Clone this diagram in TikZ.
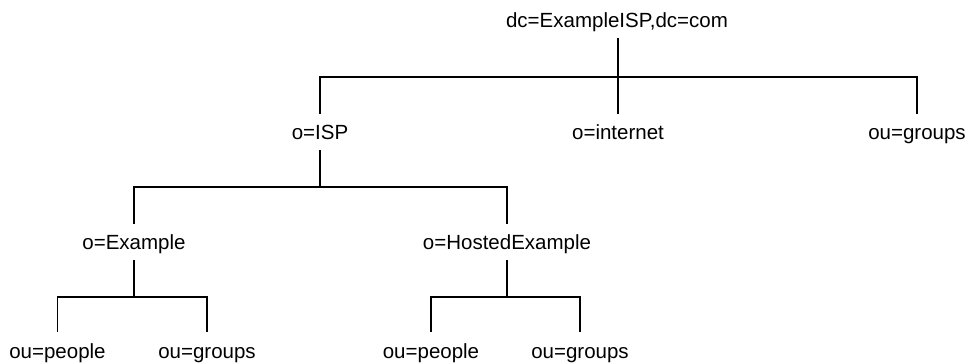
\documentclass[tikz,border=0pt]{standalone}
\usepackage{fontspec}
\setmainfont{Liberation Sans}
\begin{document}
\begin{tikzpicture}[x=1pt,y=1pt,
  entry/.style={anchor=base,inner xsep=0pt,inner ysep=6pt,text height=20pt,text depth=4pt,font=\fontsize{20.5}{24}\selectfont},
  vline/.style={line width=1.3pt},
  hline/.style={line width=2pt,line cap=rect}]
\useasboundingbox (0,0) rectangle (969,-363);
% nodes
\node[entry] (root) at (617,-28) {dc=ExampleISP,dc=com};
\node[entry] (isp) at (320,-140) {o=ISP};
\node[entry] (internet) at (618,-140) {o=internet};
\node[entry] (groupsA) at (917,-140) {ou=groups};
\node[entry] (example) at (134,-250) {o=Example};
\node[entry] (hosted) at (507,-250) {o=HostedExample};
\node[entry] (peopleB) at (57.5,-358) {ou=people};
\node[entry] (groupsB) at (207,-358) {ou=groups};
\node[entry] (peopleC) at (431,-358) {ou=people};
\node[entry] (groupsC) at (580,-358) {ou=groups};
% bar levels
\coordinate (bar0) at (618,-77);
\coordinate (bar1) at (320,-187);
\coordinate (bar2) at (134,-297);
\coordinate (bar3) at (507,-297);
% level 0 -> 1
\draw[vline] (root.south -| bar0) -- (internet.north -| bar0);
\draw[hline] (isp.north |- bar0) -- (groupsA.north |- bar0);
\draw[vline] (isp.north |- bar0) -- (isp.north);
\draw[vline] (groupsA.north |- bar0) -- (groupsA.north);
% level 1 -> 2
\draw[vline] (isp.south) -- (isp.south |- bar1);
\draw[hline] (example.north |- bar1) -- (hosted.north |- bar1);
\draw[vline] (example.north |- bar1) -- (example.north);
\draw[vline] (hosted.north |- bar1) -- (hosted.north);
% level 2 -> 3 (Example)
\draw[vline] (example.south) -- (example.south |- bar2);
\draw[hline] (peopleB.north |- bar2) -- (groupsB.north |- bar2);
\draw[vline] (peopleB.north |- bar2) -- (peopleB.north);
\draw[vline] (groupsB.north |- bar2) -- (groupsB.north);
% level 2 -> 3 (HostedExample)
\draw[vline] (hosted.south) -- (hosted.south |- bar3);
\draw[hline] (peopleC.north |- bar3) -- (groupsC.north |- bar3);
\draw[vline] (peopleC.north |- bar3) -- (peopleC.north);
\draw[vline] (groupsC.north |- bar3) -- (groupsC.north);
\end{tikzpicture}
\end{document}
